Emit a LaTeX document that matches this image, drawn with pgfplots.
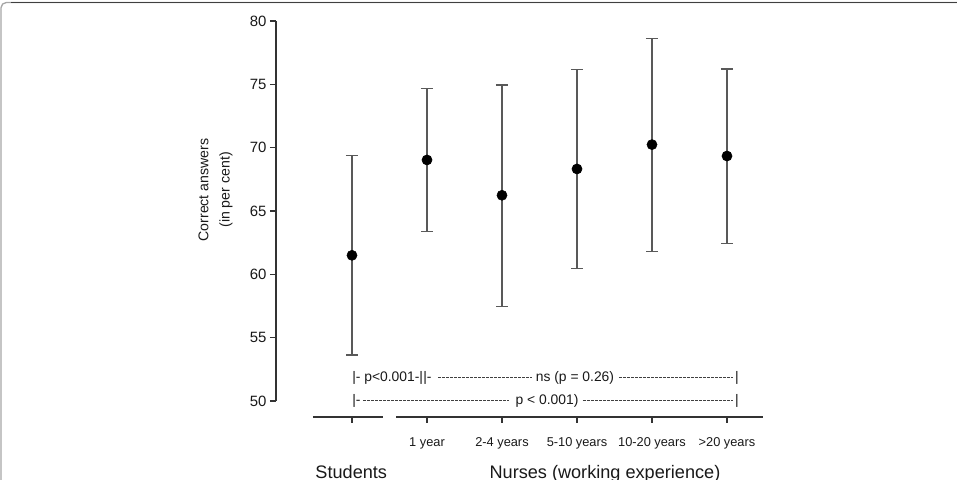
\documentclass[border=0pt]{standalone}
\usepackage{fontspec}
\setmainfont{Liberation Sans}
\usepackage{pgfplots}
\pgfplotsset{compat=1.18}
\begin{document}
\begin{tikzpicture}
\begin{axis}[
  scale only axis,
  width=366.75pt, height=285pt,
  xmin=-1.0133, xmax=5.5067, ymin=50, ymax=80,
  axis y line=left, axis x line=none,
  axis line style={-, draw=black!80, line width=0.85pt},
  ytick={50,55,...,80},
  tick align=outside,
  major tick length=4.5pt,
  tick style={draw=black!80, line width=0.85pt},
  yticklabel style={font=\fontsize{11.2}{13}\selectfont, text=black!90, inner sep=2.5pt},
  /pgf/number format/assume math mode=true,
  clip=false,
]
\coordinate (BL) at (axis cs:-4.6933,43.7632);
\coordinate (TR) at (axis cs:8.0667,81.6579);

\addplot[only marks, mark=*, mark size=3.8pt, black,
  error bars/.cd, y dir=both, y explicit,
  error bar style={line width=1pt, black!65},
  error mark options={rotate=90, mark size=4.5pt, line width=1pt, black!65}]
coordinates {
(0,61.5) += (0,7.9) -= (0,7.87)
(1,69.03) += (0,5.66) -= (0,5.66)
(2,66.24) += (0,8.71) -= (0,8.79)
(3,68.32) += (0,7.87) -= (0,7.87)
(4,70.24) += (0,8.39) -= (0,8.42)
(5,69.34) += (0,6.87) -= (0,6.89)
};

% offset x axis
\draw[black!80, line width=0.85pt] (axis cs:-0.52,48.74) -- (axis cs:0.413,48.74);
\draw[black!80, line width=0.85pt] (axis cs:0.587,48.74) -- (axis cs:5.48,48.74);
\pgfplotsinvokeforeach{0,...,5}{
  \draw[black!80, line width=0.85pt] (axis cs:#1,48.74) -- ++(0pt,-4.5pt);
}
\begin{scope}[every node/.style={font=\fontsize{9.6}{11}\selectfont, anchor=base, inner sep=0pt, text=black!90}]
\node at (axis cs:1,46.37) {1 year};
\node at (axis cs:2,46.37) {2-4 years};
\node at (axis cs:3,46.37) {5-10 years};
\node at (axis cs:4,46.37) {10-20 years};
\node at (axis cs:5,46.37) {>20 years};
\end{scope}
\node[font=\fontsize{13.6}{15}\selectfont, anchor=base, inner sep=0pt, text=black!90] at (axis cs:-0.01,43.92) {Students};
\node[font=\fontsize{13.6}{15}\selectfont, anchor=base, inner sep=0pt, text=black!90] at (axis cs:3.373,43.92) {Nurses (working experience)};

% y label
\node[font=\fontsize{10.6}{16}\selectfont, rotate=90, align=center, inner sep=0pt, text=black!90] at (axis cs:-1.82,66.66) {Correct answers\\(in per cent)};

% significance annotations
\begin{scope}[every node/.style={font=\fontsize{10.4}{12}\selectfont, inner sep=0pt, text=black!90}]
\node[anchor=base west] at (axis cs:0,51.5) {|- p<0.001-|};
\node[anchor=base west] at (axis cs:0.947,51.5) {|-};
\node[anchor=base] at (axis cs:2.973,51.5) {ns (p = 0.26)};
\node[anchor=base] at (axis cs:5.133,51.5) {|};
\node[anchor=base west] at (axis cs:0,49.76) {|-};
\node[anchor=base] at (axis cs:2.6,49.76) {p < 0.001)};
\node[anchor=base] at (axis cs:5.133,49.76) {|};
\end{scope}
\begin{scope}[black!75, line width=0.7pt, dash pattern=on 2.25pt off 0.75pt]
\draw (axis cs:1.147,51.82) -- (axis cs:2.40,51.82);
\draw (axis cs:3.56,51.82) -- (axis cs:5.08,51.82);
\draw (axis cs:0.147,50.08) -- (axis cs:2.10,50.08);
\draw (axis cs:3.08,50.08) -- (axis cs:5.08,50.08);
\end{scope}

% frame
\draw[black!35, line width=1pt, rounded corners=4pt] (axis cs:-4.68,43.5) -- (axis cs:-4.68,81.46) -- (axis cs:8.2,81.46);
\draw[black!75, line width=1.2pt] (axis cs:-4.55,81.46) -- (axis cs:8.2,81.46);
\end{axis}
\pgfresetboundingbox
\path[use as bounding box] (BL) rectangle (TR);
\end{tikzpicture}
\end{document}
